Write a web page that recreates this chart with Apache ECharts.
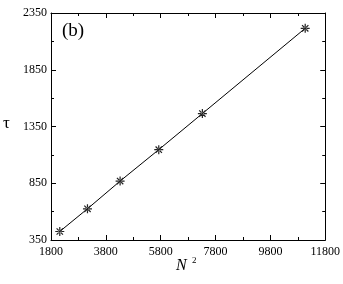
<!DOCTYPE html>
<html><head><meta charset="utf-8">
<script src="https://cdn.jsdelivr.net/npm/echarts@6/dist/echarts.min.js"></script>
<style>html,body{margin:0;padding:0;background:#fff}#c{width:343px;height:284px}</style>
</head><body><div id="c"></div>
<script>
var nSquared = [2120, 3130, 4320, 5730, 7320, 11070];
var tau = [425, 625, 869, 1146, 1464, 2215];
var xTicks = [1800, 3800, 5800, 7800, 9800, 11800];
var yTicks = [350, 850, 1350, 1850, 2350];

var FONT = '"Liberation Serif", "DejaVu Serif", serif';
var star = 'path://M8.8 1H11.2V19H8.8Z M1 8.8H19V11.2H1Z M4.5 2.8L17.2 15.5L15.5 17.2L2.8 4.5Z M2.8 15.5L15.5 2.8L17.2 4.5L4.5 17.2Z M7 10A3 3 0 1 0 13 10A3 3 0 1 0 7 10Z';

var chart = echarts.init(document.getElementById('c'), null, {renderer: 'canvas'});
function axisBase(pos, show, isX) {
  var ticks = isX ? xTicks : yTicks;
  return {
    type: 'value', position: pos,
    min: ticks[0], max: ticks[ticks.length - 1],
    interval: ticks[1] - ticks[0],
    axisLine: {show: true, onZero: false, lineStyle: {color: '#000', width: 1}},
    axisTick: {show: true, inside: true, length: 5, lineStyle: {color: '#000', width: 1}},
    minorTick: {show: true, splitNumber: 2, length: 3, lineStyle: {color: '#000', width: 1}},
    splitLine: {show: false},
    axisLabel: {show: show, color: '#000', fontFamily: FONT, fontSize: 12, margin: isX ? 6 : 4,
      formatter: function (v) { return String(v); }}
  };
}
var option = {
  backgroundColor: '#fff',
  animation: false,
  grid: {left: 51, right: 16, top: 13, bottom: 44, containLabel: false},
  xAxis: [axisBase('bottom', true, true), axisBase('top', false, true)],
  yAxis: [axisBase('left', true, false), axisBase('right', false, false)],
  graphic: [
    {type: 'text', left: 62, top: 22, style: {text: '(b)', font: '19px ' + FONT, fill: '#000'}},
    {type: 'text', left: 3, top: 115, style: {text: 'τ', font: '17px ' + FONT, fill: '#000'}},
    {type: 'text', left: 176, top: 258, style: {text: 'N', font: 'italic 16px ' + FONT, fill: '#000'}},
    {type: 'text', left: 192, top: 256, style: {text: '2', font: '9px ' + FONT, fill: '#000'}}
  ],
  series: [{
    type: 'line',
    xAxisIndex: 0, yAxisIndex: 0,
    data: nSquared.map(function (x, i) { return [x, tau[i]]; }),
    symbol: star, symbolSize: 9,
    showSymbol: true,
    itemStyle: {color: '#222'},
    lineStyle: {color: '#000', width: 1}
  }]
};
chart.setOption(option);
</script></body></html>
